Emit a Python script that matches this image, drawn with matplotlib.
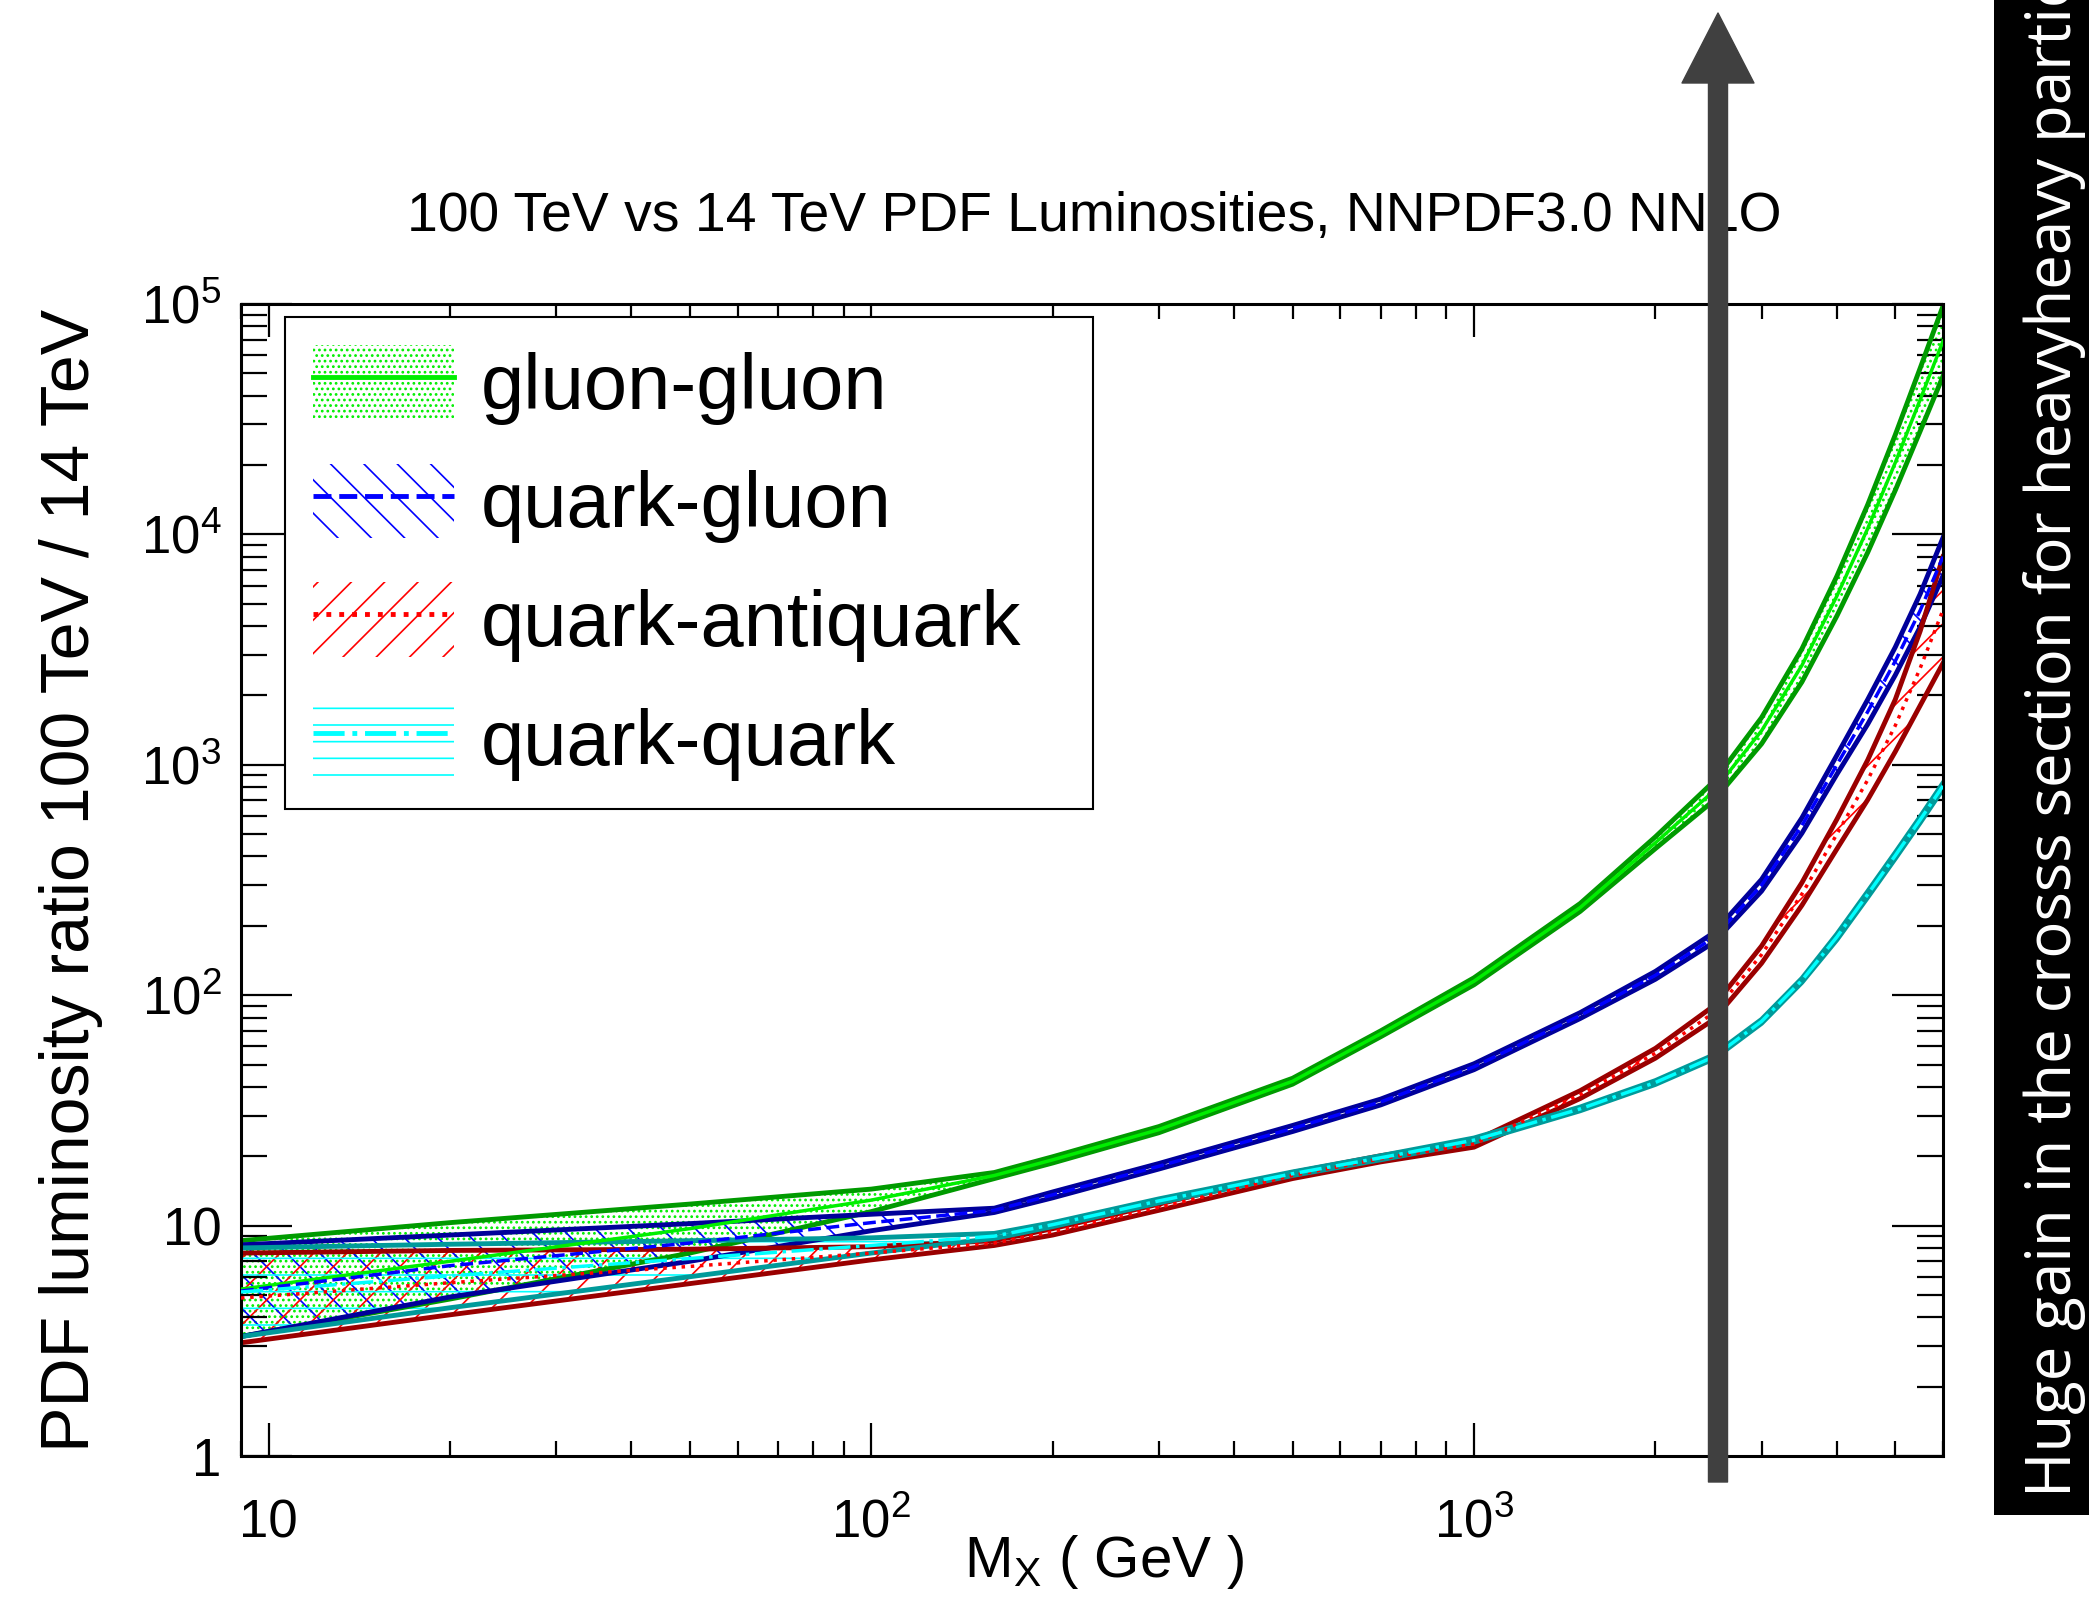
import matplotlib
matplotlib.use("Agg")
import matplotlib.pyplot as plt
from matplotlib.patches import Patch, Rectangle, FancyArrowPatch, ArrowStyle
from matplotlib.lines import Line2D
from matplotlib.legend_handler import HandlerTuple
from matplotlib.ticker import NullFormatter

plt.rcParams['font.family'] = 'Liberation Sans'
plt.rcParams['mathtext.fontset'] = 'custom'
plt.rcParams['mathtext.rm'] = 'Liberation Sans'
plt.rcParams['mathtext.it'] = 'Liberation Sans:italic'
plt.rcParams['hatch.linewidth'] = 1.2

# invariant mass grid (GeV)
mass = [9, 20, 50, 100, 160, 200, 300, 500, 700, 1000, 1500, 2000,
        2500, 3000, 3500, 4000, 4500, 5000, 5500, 6000]

# gluon-gluon
gg_hi = [8.6, 10.3, 12.4, 14.4, 17.0, 19.9, 26.9, 43.6, 70.0, 119, 250, 487,
         847, 1603, 3186, 6588, 13460, 27060, 52750, 98000]
gg_lo = [3.3, 4.8, 7.6, 11.5, 16.0, 18.7, 25.3, 41.1, 66.0, 111, 231, 433,
         700, 1233, 2288, 4426, 8346, 15530, 28100, 48600]
gg_mid = [5.3, 7.0, 9.7, 12.9, 16.5, 19.3, 26.1, 42.3, 68, 115, 240, 459,
          770, 1406, 2700, 5400, 10600, 20500, 38500, 69000]

# quark-gluon
qg_hi = [8.25, 9.1, 10.2, 11.2, 11.9, 14.0, 18.6, 27.2, 35.4, 50.4, 84.0, 126.9,
         186.9, 318, 588.6, 1100, 1920, 3240, 5520, 9680]
qg_lo = [3.3, 4.9, 7.0, 9.5, 11.4, 13.2, 17.6, 25.6, 33.4, 47.5, 79.2, 117.3,
         169.5, 283, 504.6, 909, 1500, 2450, 3970, 6610]
qg_mid = [5.2, 6.7, 8.4, 10.3, 11.65, 13.6, 18.1, 26.4, 34.4, 48.9, 81.6, 122,
          178, 300, 545, 1000, 1700, 2820, 4680, 8000]

# quark-antiquark
qqb_hi = [7.6, 7.8, 7.9, 8.1, 8.6, 9.7, 12.4, 17.0, 20.1, 23.3, 38.5, 58.8,
          89.9, 163.5, 308, 580, 1049, 1920, 3810, 8000]
qqb_lo = [3.1, 4.1, 5.6, 7.1, 8.2, 9.1, 11.65, 16.0, 18.9, 21.9, 35.6, 53.3,
          78.5, 137.6, 245.5, 431, 705, 1140, 1810, 2760]
qqb_mid = [4.85, 5.65, 6.65, 7.6, 8.4, 9.4, 12.0, 16.5, 19.5, 22.6, 37, 56,
           84, 150, 275, 500, 860, 1480, 2630, 4700]

# quark-quark
qq_hi = [8.0, 8.3, 8.6, 8.85, 9.25, 10.3, 13.06, 17.1, 20.1, 24.0, 32.7, 42.6,
         55.1, 78.5, 118.3, 184, 282, 416, 595, 834]
qq_lo = [3.3, 4.4, 6.0, 7.6, 8.8, 9.9, 12.55, 16.5, 19.3, 23.0, 31.5, 41.0,
         52.9, 75.5, 113.7, 174, 266, 392, 561, 786]
qq_mid = [5.15, 6.05, 7.2, 8.2, 9.0, 10.1, 12.8, 16.8, 19.7, 23.5, 32.1, 41.8,
          54, 77, 116, 179, 274, 404, 578, 810]

labels = ['gluon-gluon', 'quark-gluon', 'quark-antiquark', 'quark-quark']
edge_colors = ['#009a00', '#00009a', '#9a0000', '#009a9a']
hatch_colors = ['#00ee00', '#0000ff', '#ff0000', '#00ffff']
hatches = ['...', '\\', '/', '-']
line_styles = ['-', '--', ':', '-.']

bands = [(gg_lo, gg_hi, gg_mid), (qg_lo, qg_hi, qg_mid),
         (qqb_lo, qqb_hi, qqb_mid), (qq_lo, qq_hi, qq_mid)]

W, H = 2089, 1599
fig = plt.figure(figsize=(W / 100, H / 100), dpi=100)
ax = fig.add_axes([241 / W, 1 - 1456 / H, 1702 / W, 1152 / H])
ax.set_xscale('log')
ax.set_yscale('log')

for (lo, hi, mid), ec, hc, h, ls in zip(bands, edge_colors, hatch_colors, hatches, line_styles):
    ax.fill_between(mass, lo, hi, facecolor='none', edgecolor=hc, hatch=h, linewidth=0, zorder=1)
    ax.plot(mass, hi, color=ec, lw=3.5, zorder=2)
    ax.plot(mass, lo, color=ec, lw=3.5, zorder=2)
    ax.plot(mass, mid, color=hc, ls=ls, lw=2.5, zorder=3)

ax.set_xlim(9, 6000)
ax.set_ylim(1, 1e5)

ax.set_xticks([10, 100, 1000], ['10', r'$\mathrm{10^{2}}$', r'$\mathrm{10^{3}}$'])
ax.set_yticks([1, 10, 100, 1e3, 1e4, 1e5],
              ['1', '10', r'$\mathrm{10^{2}}$', r'$\mathrm{10^{3}}$',
               r'$\mathrm{10^{4}}$', r'$\mathrm{10^{5}}$'])
ax.xaxis.set_minor_formatter(NullFormatter())
ax.yaxis.set_minor_formatter(NullFormatter())

ax.tick_params(axis='x', which='major', direction='in', length=24, width=1.6,
               top=True, labelsize=38, pad=59)
ax.tick_params(axis='x', which='minor', direction='in', length=11, width=1.6, top=True)
ax.tick_params(axis='y', which='major', direction='in', length=37, width=1.6,
               right=True, labelsize=38, pad=14)
ax.tick_params(axis='y', which='minor', direction='in', length=19, width=1.6, right=True)
for lab in ax.get_xticklabels():
    lab.set_verticalalignment('baseline')
for s in ax.spines.values():
    s.set_linewidth(2.2)

ax.set_ylabel('PDF luminosity ratio 100 TeV / 14 TeV', fontsize=49)
ax.yaxis.set_label_coords(-0.081, 0.5)

fig.text(1104 / W, 1 - 1577 / H, r'$\mathrm{M_{X}}$ ( GeV )', ha='center', va='baseline', fontsize=42)
fig.text(1094 / W, 1 - 230.5 / H, '100 TeV vs 14 TeV PDF Luminosities, NNPDF3.0 NNLO',
         ha='center', va='baseline', fontsize=39.8)

handles = [(Patch(facecolor='none', edgecolor=hc, hatch=h, lw=0),
            Line2D([], [], color=hc, ls=ls, lw=3.5))
           for hc, h, ls in zip(hatch_colors, hatches, line_styles)]
leg = ax.legend(handles, labels, loc='upper left',
                bbox_to_anchor=(284.5 / W, 1 - 807 / H, (1093 - 284.5) / W, 490 / H),
                bbox_transform=fig.transFigure, mode='expand', borderaxespad=0,
                fontsize=56, handlelength=1.82, handleheight=1.1, handletextpad=0.34,
                labelspacing=0.50, borderpad=0.36, fancybox=False, framealpha=1,
                edgecolor='black', handler_map={tuple: HandlerTuple(ndivide=1)})
leg.get_frame().set_linewidth(1.5)

# arrow and side note
arrow = FancyArrowPatch((1718 / W, 1 - 1482 / H), (1718 / W, 1 - 13 / H),
                        transform=fig.transFigure, mutation_scale=1,
                        arrowstyle=ArrowStyle.Simple(head_length=50.4, head_width=51.8, tail_width=13.7),
                        color='#404040', shrinkA=0, shrinkB=0, zorder=5)
fig.add_artist(arrow)
fig.add_artist(Rectangle((1994 / W, 1 - 1515 / H), 95 / W, 1515 / H,
                         transform=fig.transFigure, facecolor='black', edgecolor='none', zorder=1))
fig.text(2071 / W, 1 - 1497 / H, 'Huge gain in the crosss section for heavyheavy particles',
         rotation=90, rotation_mode='anchor', ha='left', va='baseline', color='white',
         fontsize=44.5, family='Open Sans', zorder=3)

fig.savefig('out.png', dpi=100)
